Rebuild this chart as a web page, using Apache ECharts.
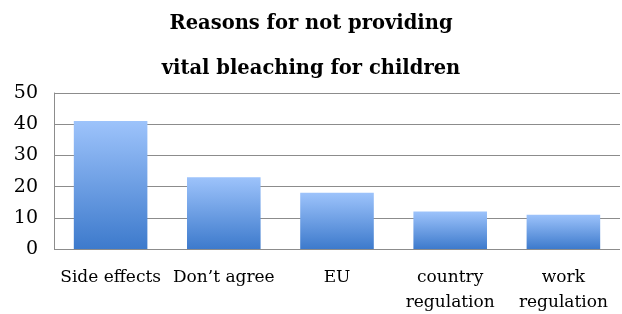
<!DOCTYPE html>
<html>
<head>
<meta charset="utf-8">
<script src="https://cdn.jsdelivr.net/npm/echarts@6/dist/echarts.min.js"></script>
<style>
  html, body { margin: 0; padding: 0; background: #fff; }
  #chart { width: 622px; height: 314px; }
</style>
</head>
<body>
<div id="chart"></div>
<script>
var chart = echarts.init(document.getElementById('chart'));

// categories and values
var reasons = ['Side effects', 'Don\u2019t agree', 'EU', 'country\nregulation', 'work\nregulation'];
var counts = [41, 23, 18, 12, 11];
var yTicks = [0, 10, 20, 30, 40, 50];

var serif = '"DejaVu Serif", "Liberation Serif", serif';

var option = {
    backgroundColor: '#fff',
    title: {
        text: 'Reasons for not providing\nvital bleaching for children',
        left: 'center',
        top: -4,
        textStyle: {
            fontFamily: serif,
            fontWeight: 'bold',
            fontSize: 19.5,
            color: '#000',
            lineHeight: 45
        }
    },
    grid: { left: 54, right: 2, top: 93, bottom: 65, outerBoundsMode: 'none' },
    xAxis: {
        type: 'category',
        data: reasons,
        axisLine: { show: false },
        axisTick: { show: false },
        axisLabel: {
            interval: 0,
            margin: 16,
            fontFamily: serif,
            fontSize: 17,
            lineHeight: 25,
            color: '#000'
        }
    },
    yAxis: {
        type: 'value',
        min: yTicks[0],
        max: yTicks[yTicks.length - 1],
        interval: 10,
        axisLine: { show: true, lineStyle: { color: '#8c8c8c', width: 1 } },
        axisTick: { show: false },
        splitLine: { lineStyle: { color: '#8c8c8c', width: 1 } },
        axisLabel: {
            margin: 16,
            fontFamily: serif,
            fontSize: 19,
            color: '#000'
        }
    },
    series: [{
        type: 'bar',
        data: counts,
        barWidth: '65%',
        itemStyle: {
            color: new echarts.graphic.LinearGradient(0, 0, 0, 1, [
                { offset: 0, color: '#9dc3fb' },
                { offset: 1, color: '#3d7acc' }
            ])
        }
    }]
};

chart.setOption(option);
</script>
</body>
</html>
